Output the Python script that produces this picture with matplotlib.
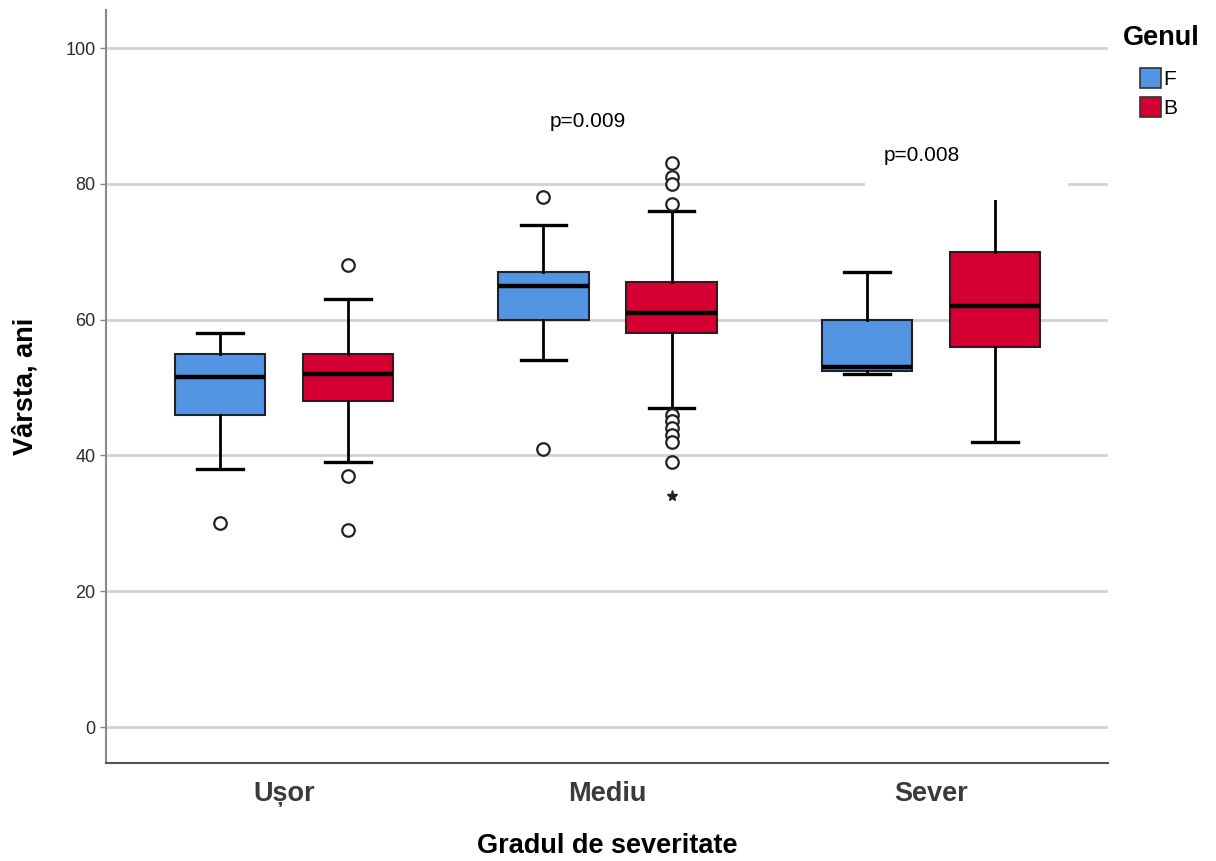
import numpy as np
import matplotlib.pyplot as plt
from matplotlib.patches import Patch, Rectangle

plt.rcParams['font.family'] = ['Liberation Sans', 'DejaVu Sans']

categories = ['Ușor', 'Mediu', 'Sever']
groups = ['F', 'B']

# box statistics per category
f_whislo = [38, 54, 52]
f_q1 = [46, 60, 52.5]
f_med = [51.5, 65, 53]
f_q3 = [55, 67, 60]
f_whishi = [58, 74, 67]
f_outliers = [[30], [78, 41], []]
f_extremes = [[], [], []]

b_whislo = [39, 47, 42]
b_q1 = [48, 58, 56]
b_med = [52, 61, 62]
b_q3 = [55, 65.5, 70]
b_whishi = [63, 76, 85]
b_outliers = [[68, 37, 29], [83, 81, 80, 77, 46, 45, 44, 43, 42, 39], []]
b_extremes = [[], [34], []]

p_labels = ['', 'p=0.009', 'p=0.008']
p_heights = [None, 89.2, 84.2]
p_shift = [0, -0.06, -0.028]

colors = {'F': '#5394e3', 'B': '#d50032'}

fig = plt.figure(figsize=(12.16, 8.61), dpi=100)
ax = fig.add_axes([0.0872, 0.1138, 0.824, 0.8746])

x = np.arange(len(categories))
offset = 0.198
width = 0.28

series = {
    'F': (f_whislo, f_q1, f_med, f_q3, f_whishi, f_outliers, f_extremes, -offset),
    'B': (b_whislo, b_q1, b_med, b_q3, b_whishi, b_outliers, b_extremes, offset),
}

for g in groups:
    lo, q1, med, q3, hi, outl, ext, dx = series[g]
    stats = []
    for i in range(len(categories)):
        stats.append(dict(whislo=lo[i], q1=q1[i], med=med[i], q3=q3[i],
                          whishi=hi[i], fliers=outl[i]))
    ax.bxp(stats, positions=x + dx, widths=width, capwidths=0.14,
           patch_artist=True, manage_ticks=False,
           boxprops=dict(facecolor=colors[g], edgecolor='#222222', linewidth=1.5),
           medianprops=dict(color='black', linewidth=3.2),
           whiskerprops=dict(color='black', linewidth=2),
           capprops=dict(color='black', linewidth=2.4),
           flierprops=dict(marker='o', markerfacecolor='white', markeredgecolor='#222222',
                           markersize=9, markeredgewidth=1.6, linestyle='none'))
    for i in range(len(categories)):
        if ext[i]:
            ax.plot([x[i] + dx] * len(ext[i]), ext[i], linestyle='none', marker='*',
                    color='#222222', markersize=8, zorder=4)

# p-value annotations
for i, (lab, h) in enumerate(zip(p_labels, p_heights)):
    if lab:
        ax.text(x[i] + p_shift[i], h, lab, ha='center', va='center',
                fontsize=15, color='black', zorder=6)
# white text frame over the Sever group (as in the original export)
ax.add_patch(Rectangle((1.796, 77.6), 0.628, 10.4, facecolor='white', edgecolor='none', zorder=5))

ax.set_xlim(-0.55, 2.547)
ax.set_ylim(-5.3, 105.6)
ax.set_yticks(np.arange(0, 101, 20))
ax.set_xticks(x)
ax.set_xticklabels(categories, fontsize=19.5, fontweight='bold', color='#3a3a3a')
ax.tick_params(axis='x', length=0, pad=13)
ax.tick_params(axis='y', labelsize=13, colors='#2b2b2b', length=4, width=1, color='#888888')

ax.yaxis.grid(True, color='#d2d2d2', linewidth=2)
ax.set_axisbelow(True)
for s in ['top', 'right']:
    ax.spines[s].set_visible(False)
ax.spines['left'].set_color('#8a8a8a')
ax.spines['left'].set_linewidth(1.5)
ax.spines['bottom'].set_color('#555555')
ax.spines['bottom'].set_linewidth(1.5)

ax.set_ylabel('Vârsta, ani', fontsize=19.5, fontweight='bold', labelpad=19)
ax.set_xlabel('Gradul de severitate', fontsize=19.5, fontweight='bold', labelpad=19)

# legend outside on the right
fig.text(1123 / 1216, 1 - 38 / 861, 'Genul', fontsize=19.5, fontweight='bold', va='center')
handles = [Patch(facecolor=colors[g], edgecolor='#333333', linewidth=1.2, label=g) for g in groups]
fig.legend(handles=handles, loc='upper left', bbox_to_anchor=(1132 / 1216, 1 - 60 / 861),
           frameon=False, fontsize=15, handlelength=1.0, handleheight=1.1,
           handletextpad=0.1, labelspacing=0.35, borderaxespad=0)

fig.savefig('out.png', dpi=100)
